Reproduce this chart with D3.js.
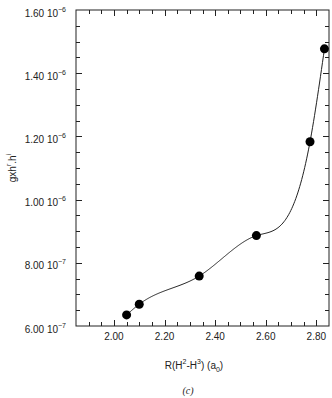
<!DOCTYPE html>
<html><head><meta charset="utf-8">
<script src="https://cdn.jsdelivr.net/npm/d3@7"></script>
<style>body{margin:0;background:#fff;} svg{display:block;}</style>
</head><body>
<script>
const xValues = [2.05, 2.10, 2.337, 2.563, 2.775, 2.832];
const yValues = [6.35e-7, 6.69e-7, 7.58e-7, 8.86e-7, 1.183e-6, 1.477e-6];
const xTickValues = [2.0, 2.2, 2.4, 2.6, 2.8];
const xTickLabels = ["2.00", "2.20", "2.40", "2.60", "2.80"];
const yTickValues = [6e-7, 8e-7, 1e-6, 1.2e-6, 1.4e-6, 1.6e-6];
const yTickMantissa = ["6.00", "8.00", "1.00", "1.20", "1.40", "1.60"];
const yTickExponent = ["\u22127", "\u22127", "\u22126", "\u22126", "\u22126", "\u22126"];
const xDomain = [1.85, 2.85];
const yDomain = [6e-7, 1.6e-6];

const W = 332, H = 398;
const L = 76, R = 329, T = 10, B = 326;
const font = "'Liberation Sans', Arial, Helvetica, sans-serif";
const ink = "#222";

const svg = d3.select("body").append("svg").attr("width", W).attr("height", H);
const x = d3.scaleLinear().domain(xDomain).range([L, R]);
const y = d3.scaleLinear().domain(yDomain).range([B, T]);

// natural cubic spline y(x) through the data points
function naturalSpline(xs, ys) {
  const n = xs.length;
  const h = [], al = [], l = [1], mu = [0], z = [0], c = new Array(n).fill(0), b = [], d = [];
  for (let i = 0; i < n - 1; i++) h[i] = xs[i + 1] - xs[i];
  for (let i = 1; i < n - 1; i++) al[i] = 3 / h[i] * (ys[i + 1] - ys[i]) - 3 / h[i - 1] * (ys[i] - ys[i - 1]);
  for (let i = 1; i < n - 1; i++) {
    l[i] = 2 * (xs[i + 1] - xs[i - 1]) - h[i - 1] * mu[i - 1];
    mu[i] = h[i] / l[i];
    z[i] = (al[i] - h[i - 1] * z[i - 1]) / l[i];
  }
  l[n - 1] = 1; z[n - 1] = 0; c[n - 1] = 0;
  for (let j = n - 2; j >= 0; j--) {
    c[j] = z[j] - mu[j] * c[j + 1];
    b[j] = (ys[j + 1] - ys[j]) / h[j] - h[j] * (c[j + 1] + 2 * c[j]) / 3;
    d[j] = (c[j + 1] - c[j]) / (3 * h[j]);
  }
  return t => {
    let j = 0;
    while (j < n - 2 && t > xs[j + 1]) j++;
    const dx = t - xs[j];
    return ys[j] + b[j] * dx + c[j] * dx * dx + d[j] * dx * dx * dx;
  };
}

// frame
svg.append("rect").attr("x", L).attr("y", T).attr("width", R - L).attr("height", B - T)
  .attr("fill", "none").attr("stroke", ink).attr("stroke-width", 1);

// ticks
const xMinor = d3.range(1.9, 2.851, 0.05).map(v => +v.toFixed(2));
const yMinor = d3.range(6.5e-7, 1.6e-6, 0.5e-7);
const isMajX = v => xTickValues.some(t => Math.abs(t - v) < 1e-6);
const isMajY = v => yTickValues.some(t => Math.abs(t - v) < 1e-12);
const tg = svg.append("g").attr("stroke", ink).attr("stroke-width", 1);
xMinor.filter(v => v < 2.849).forEach(v => {
  const len = isMajX(v) ? 6 : 4;
  const px = Math.round(x(v)) + 0.5;
  tg.append("line").attr("x1", px).attr("x2", px).attr("y1", B).attr("y2", B - len);
  tg.append("line").attr("x1", px).attr("x2", px).attr("y1", T).attr("y2", T + len);
});
yMinor.concat(yTickValues.slice(1, -1)).forEach(v => {
  const len = isMajY(v) ? 6 : 4;
  const py = Math.round(y(v)) + 0.5;
  tg.append("line").attr("x1", L).attr("x2", L + len).attr("y1", py).attr("y2", py);
  tg.append("line").attr("x1", R).attr("x2", R - len).attr("y1", py).attr("y2", py);
});

// x tick labels
xTickValues.forEach((v, i) => {
  svg.append("text").attr("x", x(v)).attr("y", 340).attr("text-anchor", "middle")
    .attr("font-family", font).attr("font-size", 10).attr("fill", ink).text(xTickLabels[i]);
});

// y tick labels
yTickValues.forEach((v, i) => {
  const t = svg.append("text").attr("x", 66).attr("y", y(v) + 6.5).attr("text-anchor", "end")
    .attr("font-family", font).attr("font-size", 10).attr("fill", ink);
  t.append("tspan").text(yTickMantissa[i] + " 10");
  t.append("tspan").attr("dy", -5).attr("font-size", 7).text(yTickExponent[i]);
});

// curve
const spline = naturalSpline(xValues, yValues);
const x0 = xValues[0], x1 = xValues[xValues.length - 1];
const samples = d3.range(0, 201).map(k => x0 + (x1 - x0) * k / 200);
svg.append("path")
  .attr("d", d3.line().x(t => x(t)).y(t => y(spline(t)))(samples))
  .attr("fill", "none").attr("stroke", ink).attr("stroke-width", 1);

// points
svg.append("g").selectAll("circle").data(xValues).join("circle")
  .attr("cx", d => x(d)).attr("cy", (d, i) => y(yValues[i])).attr("r", 4.5).attr("fill", "#000");

// x axis title
const xt = svg.append("text").attr("x", 194).attr("y", 369).attr("text-anchor", "middle")
  .attr("font-family", font).attr("font-size", 10).attr("fill", ink);
xt.append("tspan").text("R(H");
xt.append("tspan").attr("dy", -5).attr("font-size", 7).text("2");
xt.append("tspan").attr("dy", 5).text("-H");
xt.append("tspan").attr("dy", -5).attr("font-size", 7).text("3");
xt.append("tspan").attr("dy", 5).text(") (a");
xt.append("tspan").attr("dy", 2.5).attr("font-size", 7).text("0");
xt.append("tspan").attr("dy", -2.5).text(")");

// y axis title
const yt = svg.append("text").attr("transform", "translate(16,168) rotate(-90)")
  .attr("text-anchor", "middle").attr("font-family", font).attr("font-size", 10).attr("fill", ink);
yt.append("tspan").text("gxh");
yt.append("tspan").attr("dy", -5).attr("font-size", 7).text("r");
yt.append("tspan").attr("dy", 5).text(".h");
yt.append("tspan").attr("dy", -5).attr("font-size", 7).text("i");

// caption
svg.append("text").attr("x", 188).attr("y", 394).attr("text-anchor", "middle")
  .attr("font-family", "'Liberation Serif', 'Times New Roman', serif").attr("font-style", "italic")
  .attr("font-size", 10).attr("fill", ink).text("(c)");
</script>
</body></html>
